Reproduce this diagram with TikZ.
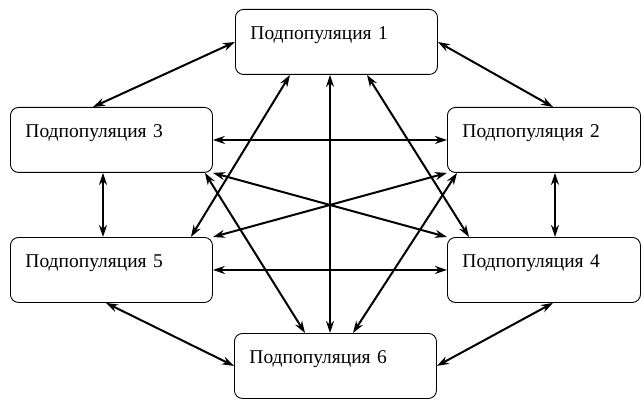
\documentclass[tikz,border=0pt]{standalone}
\usepackage{fontspec}
\setmainfont{Liberation Serif}
\usetikzlibrary{arrows.meta}

\begin{document}
\begin{tikzpicture}[
        x=1pt, y=-1pt,
        every node/.style={font=\fontsize{19.5}{23}\selectfont},
        popbox/.style={rectangle, draw, rounded corners=8pt, line width=0.9pt, anchor=north west,
            inner xsep=15pt, inner ysep=0pt, text width=#1, align=left,
            text height=30pt, text depth=35pt},
        popbox/.default=172pt,
        arrow/.style={<->, >={Stealth[length=12pt, width=8pt]}, line width=2pt}
    ]
    \useasboundingbox (0,0) rectangle (644,403);

    % Nodes
    \node[popbox] (p1) at (235,9) {Подпопуляция 1};
    \node[popbox] (p3) at (10,107) {Подпопуляция 3};
    \node[popbox=163pt] (p2) at (447,107) {Подпопуляция 2};
    \node[popbox] (p5) at (10,237) {Подпопуляция 5};
    \node[popbox=163pt] (p4) at (447,237) {Подпопуляция 4};
    \node[popbox] (p6) at (234,333) {Подпопуляция 6};

    % Arrows from the top
    \draw[arrow] (p1.west) -- ([xshift=83pt]p3.north west);
    \draw[arrow] (p1.east) -- ([xshift=106pt]p2.north west);
    \draw[arrow] ([xshift=95pt]p1.south west) -- ([xshift=96pt]p6.north west);
    \draw[arrow] ([xshift=55pt]p1.south west) -- ([xshift=-22pt]p5.north east);
    \draw[arrow] ([xshift=132pt]p1.south west) -- ([xshift=22pt]p4.north west);

    % Arrows to the bottom
    \draw[arrow] ([xshift=-8pt]p3.south east) -- ([xshift=71pt]p6.north west);
    \draw[arrow] ([xshift=10pt]p2.south west) -- ([xshift=119pt]p6.north west);
    \draw[arrow] ([xshift=96pt]p5.south west) -- (p6.west);
    \draw[arrow] (p6.east) -- ([xshift=106pt]p4.south west);

    % Side arrows
    \draw[arrow] (p3.east) -- (p2.west);
    \draw[arrow] (p5.east) -- (p4.west);
    \draw[arrow] ([xshift=93pt]p3.south west) -- ([xshift=93pt]p5.north west);
    \draw[arrow] ([xshift=108pt]p2.south west) -- ([xshift=108pt]p4.north west);

    % Cross
    \draw[arrow] (p3.south east) -- (p4.north west);
    \draw[arrow] (p5.north east) -- (p2.south west);
\end{tikzpicture}
\end{document}
